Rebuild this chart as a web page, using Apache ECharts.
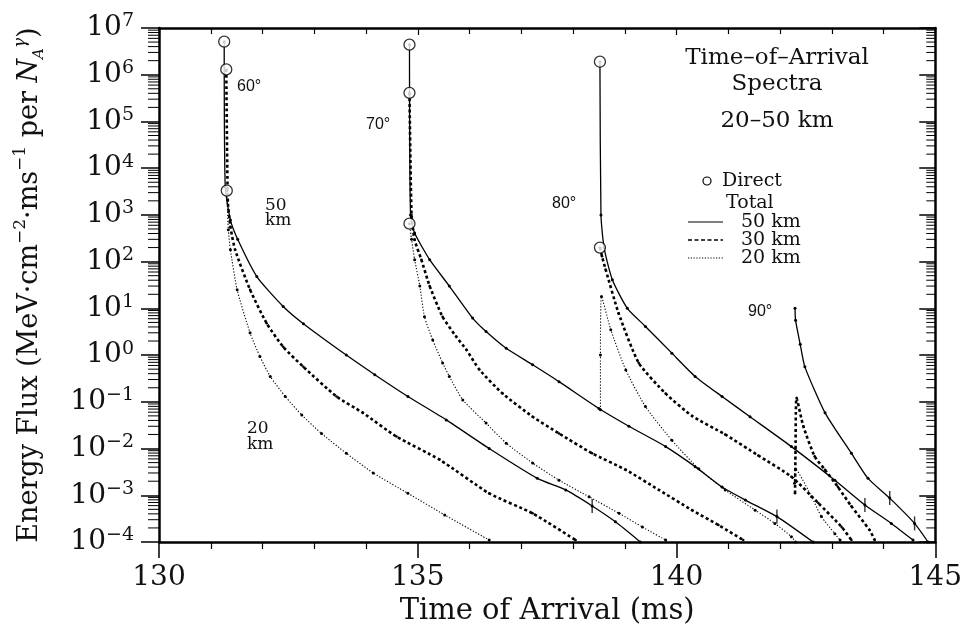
<!DOCTYPE html>
<html><head><meta charset="utf-8">
<script src="https://cdn.jsdelivr.net/npm/echarts@6/dist/echarts.min.js"></script>
<style>html,body{margin:0;padding:0;background:#fff}#c{width:965px;height:636px}</style>
</head><body><div id="c"></div>
<script>
// ---- data (time in ms, energy flux) ----
const xTicks = [130, 135, 140, 145];
const yExponents = [-4, -3, -2, -1, 0, 1, 2, 3, 4, 5, 6, 7];

const t60_50 = [131.26,131.28,131.38,131.52,131.89,132.40,132.79,133.62,134.17,134.81,135.55,136.38,137.31,137.86,138.37,138.82,139.30];
const v60_50 = [5.1e6,4.0e3,7.8e2,3.0e2,48,11,4.7,1.0,0.38,0.13,0.041,0.010,2.3e-3,1.3e-3,5.9e-4,2.7e-4,1.0e-4];
const t60_30 = [131.30,131.33,131.38,131.47,131.76,132.08,132.40,132.79,133.43,133.94,134.59,135.42,136.38,137.22,138.05];
const v60_30 = [1.3e6,2.0e3,5.6e2,1.8e2,25,4.8,1.5,0.56,0.13,0.058,0.018,5.8e-3,1.1e-3,4.1e-4,1.1e-4];
const t60_20 = [131.31,131.34,131.38,131.51,131.76,131.95,132.15,132.44,132.76,133.14,133.62,134.14,134.81,135.52,136.38];
const v60_20 = [3.3e3,4.8e2,1.8e2,25,3.0,0.93,0.35,0.13,0.052,0.021,7.9e-3,3.0e-3,1.1e-3,3.8e-4,1.1e-4];

const t70_50 = [134.84,134.86,134.94,135.23,135.61,136.06,136.32,136.71,137.22,137.73,138.50,139.08,139.79,140.36,140.88,141.33,141.94,142.64];
const v70_50 = [4.4e6,1.0e3,4.1e2,1.1e2,30,6.2,3.2,1.4,0.62,0.27,0.072,0.030,0.011,4.1e-3,1.5e-3,7.9e-4,3.5e-4,1.0e-4];
const t70_30 = [134.84,134.88,134.94,135.07,135.23,135.48,135.74,135.94,136.19,136.64,137.22,137.73,138.37,139.02,139.66,140.30,140.81,141.29];
const v70_30 = [4.1e5,1.0e3,2.9e2,1.1e2,30,6.6,2.5,1.3,0.49,0.15,0.048,0.021,7.9e-3,3.5e-3,1.3e-3,4.8e-4,2.3e-4,1.1e-4];
const t70_20 = [134.84,134.88,134.94,135.04,135.13,135.29,135.48,135.61,135.87,136.32,136.71,137.22,137.73,138.31,138.89,139.34,139.79];
const v70_20 = [6.5e2,3.0e2,1.1e2,30,6.6,2.1,0.68,0.35,0.11,0.035,0.013,4.9e-3,2.1e-3,9.3e-4,4.1e-4,2.1e-4,1.1e-4];

const t80_50 = [138.52,138.54,138.60,138.76,139.05,139.40,139.91,140.36,140.88,141.42,142.22,143.06,143.64,144.15,144.57];
const v80_50 = [1.9e6,1.0e3,2.0e2,41,10,4.1,1.1,0.35,0.13,0.048,0.011,2.1e-3,6.2e-4,2.5e-4,1.1e-4];
const t80_30 = [138.52,138.56,138.63,138.88,139.27,139.79,140.30,140.94,141.58,142.22,142.74,143.19,143.38];
const v80_30 = [2.0e2,1.3e2,68,7.9,0.68,0.15,0.050,0.020,7.1e-3,2.5e-3,6.8e-4,2.1e-4,1.1e-4];
const t80_20 = [138.53,138.53,138.55,138.73,139.02,139.40,139.91,140.43,140.94,141.52,141.90,142.22,142.30];
const v80_20 = [0.068,1.0,18,3.5,0.48,0.079,0.015,3.7e-3,1.3e-3,4.8e-4,2.5e-4,1.3e-4,1.0e-4];

const t90_50 = [142.29,142.30,142.39,142.48,142.87,143.38,143.70,144.12,144.60,144.86];
const v90_50 = [10,5.6,1.7,0.56,0.058,7.9e-3,2.3e-3,8.7e-4,2.5e-4,1.0e-4];
const t90_30 = [142.29,142.30,142.32,142.45,142.67,142.87,143.12,143.38,143.73,143.83];
const v90_30 = [1.1e-3,0.010,0.12,0.030,6.8e-3,3.5e-3,1.5e-3,5.8e-4,1.8e-4,1.1e-4];
const t90_20 = [142.28,142.30,142.61,142.80,143.06,143.16];
const v90_20 = [1.8e-3,3.6e-3,9.3e-4,3.5e-4,1.5e-4,1.1e-4];

const directT = [131.26,131.30,131.31,134.84,134.84,134.84,138.52,138.52];
const directV = [5.1e6,1.3e6,3.3e3,4.4e6,4.1e5,6.5e2,1.9e6,2.0e2];

const errT = [138.37,141.94,143.64,144.12,144.60];
const errV = [5.9e-4,3.5e-4,6.2e-4,8.7e-4,2.5e-4];

const angleLabels = ['60°','70°','80°','90°'];
const altitudeLabels = ['50 km','30 km','20 km'];

// ---- build chart ----
const SERIF = '"DejaVu Serif", "Liberation Serif", serif';
const SANS = '"Liberation Sans", "DejaVu Sans", sans-serif';
const zip = (t, v) => t.map((x, i) => [x, v[i]]);

const styles = {
  '50 km': { type: 'solid', width: 1.3 },
  '30 km': { type: [3, 2.6], width: 2.6 },
  '20 km': { type: [1.2, 1.8], width: 1.1 }
};

const groups = [
  ['50 km', t60_50, v60_50], ['30 km', t60_30, v60_30], ['20 km', t60_20, v60_20],
  ['50 km', t70_50, v70_50], ['30 km', t70_30, v70_30], ['20 km', t70_20, v70_20],
  ['50 km', t80_50, v80_50], ['30 km', t80_30, v80_30], ['20 km', t80_20, v80_20],
  ['50 km', t90_50, v90_50], ['30 km', t90_30, v90_30], ['20 km', t90_20, v90_20]
];

const series = groups.map(([name, t, v]) => ({
  name, type: 'line', data: zip(t, v),
  smooth: 0.2,
  symbol: 'circle', symbolSize: name === '30 km' ? 2.5 : 3, showSymbol: true,
  itemStyle: { color: '#000' },
  lineStyle: { color: '#000', width: styles[name].width, type: styles[name].type },
  silent: true, animation: false, z: 3
}));

series.push({
  name: 'Direct', type: 'scatter', data: zip(directT, directV),
  symbol: 'circle', symbolSize: 11,
  itemStyle: { color: '#fff', borderColor: '#000', borderWidth: 1.3 },
  z: 5, silent: true, animation: false
});
series.push({
  name: 'err', type: 'scatter', data: zip(errT, errV),
  symbol: 'rect', symbolSize: [1.4, 14],
  itemStyle: { color: '#000' }, z: 4, silent: true, animation: false
});

// log minor ticks (2..9 per decade) on left (outward) and right (inward)
const minorVals = [];
for (let k = -4; k < 7; k++) for (let m = 2; m <= 9; m++) minorVals.push(m * Math.pow(10, k));
function tickSeries(xv, dir, len) {
  return {
    type: 'custom', silent: true, animation: false, clip: false, z: 6,
    data: minorVals.map(v => [xv, v]),
    renderItem: (params, api) => {
      const p = api.coord([api.value(0), api.value(1)]);
      return { type: 'line', shape: { x1: p[0], y1: p[1], x2: p[0] + dir * len, y2: p[1] },
               style: { stroke: '#000', lineWidth: 1 } };
    }
  };
}
series.push(tickSeries(130, -1, 11));
series.push(tickSeries(145, -1, 9));

const supMinus = e => (e < 0 ? '−' + (-e) : '' + e);

const option = {
  backgroundColor: '#fff',
  animation: false,
  grid: { left: 159, right: 28, top: 28, bottom: 94, containLabel: false },
  xAxis: [
    {
      type: 'value', min: xTicks[0], max: xTicks[xTicks.length - 1], interval: 5, position: 'bottom',
      name: 'Time of Arrival (ms)', nameLocation: 'middle', nameGap: 55,
      nameTextStyle: { fontFamily: SERIF, fontSize: 29, color: '#111' },
      axisLine: { lineStyle: { color: '#000', width: 2.5 } },
      axisTick: { inside: false, length: 16, lineStyle: { color: '#000', width: 1.5 } },
      minorTick: { show: true, splitNumber: 5, length: 7, lineStyle: { color: '#000', width: 1.2 } },
      axisLabel: { fontFamily: SERIF, fontSize: 28, color: '#111', margin: 22 },
      splitLine: { show: false }
    },
    {
      type: 'value', min: xTicks[0], max: xTicks[xTicks.length - 1], interval: 5, position: 'top',
      axisLine: { lineStyle: { color: '#000', width: 2.5 } },
      axisTick: { inside: true, length: 7, lineStyle: { color: '#000', width: 1.2 } },
      minorTick: { show: true, splitNumber: 5, length: 6, lineStyle: { color: '#000', width: 1.2 } },
      axisLabel: { show: false }, splitLine: { show: false }
    }
  ],
  yAxis: [
    {
      type: 'log', logBase: 10, min: 1e-4, max: 1e7, interval: 1, position: 'left',
      name: '{n|Energy Flux (MeV·cm}{s|−2}{n|·ms}{s|−1}{n| per }{i|N}{sub|A}{si|γ}{n|)}',
      nameLocation: 'middle', nameGap: 112,
      nameTextStyle: {
        fontFamily: SERIF, fontSize: 27, color: '#111',
        rich: {
          n: { fontFamily: SERIF, fontSize: 27, lineHeight: 35, color: '#111' },
          s: { fontFamily: SERIF, fontSize: 17, lineHeight: 17, verticalAlign: 'top', color: '#111' },
          i: { fontFamily: SERIF, fontSize: 27, fontStyle: 'italic', lineHeight: 35, color: '#111' },
          sub: { fontFamily: SERIF, fontSize: 15, lineHeight: 15, verticalAlign: 'bottom', fontStyle: 'italic', color: '#111' },
          si: { fontFamily: SERIF, fontSize: 17, lineHeight: 17, verticalAlign: 'top', fontStyle: 'italic', color: '#111' }
        }
      },
      axisLine: { lineStyle: { color: '#000', width: 2.5 } },
      axisTick: { inside: false, length: 18, lineStyle: { color: '#000', width: 1.5 } },
      axisLabel: {
        margin: 25,
        formatter: v => {
          const e = Math.round(Math.log10(v));
          return '{b|10}{s|' + supMinus(e) + '}';
        },
        rich: {
          b: { fontFamily: SERIF, fontSize: 28, lineHeight: 32, color: '#111' },
          s: { fontFamily: SERIF, fontSize: 19, lineHeight: 18, verticalAlign: 'top', color: '#111' }
        }
      },
      splitLine: { show: false }
    },
    {
      type: 'log', logBase: 10, min: 1e-4, max: 1e7, interval: 1, position: 'right',
      axisLine: { lineStyle: { color: '#000', width: 2.5 } },
      axisTick: { inside: true, length: 16, lineStyle: { color: '#000', width: 1.5 } },
      axisLabel: { show: false }, splitLine: { show: false }
    }
  ],
  graphic: [
    // angle labels
    { type: 'text', left: 237, top: 79, style: { text: angleLabels[0], font: '16px ' + SANS, fill: '#111' } },
    { type: 'text', left: 366, top: 117, style: { text: angleLabels[1], font: '16px ' + SANS, fill: '#111' } },
    { type: 'text', left: 552, top: 196, style: { text: angleLabels[2], font: '16px ' + SANS, fill: '#111' } },
    { type: 'text', left: 748, top: 304, style: { text: angleLabels[3], font: '16px ' + SANS, fill: '#111' } },
    // altitude labels
    { type: 'text', left: 265, top: 197, style: { text: '50\nkm', font: '17px ' + SERIF, fill: '#111', lineHeight: 15 } },
    { type: 'text', left: 247, top: 420, style: { text: '20\nkm', font: '17px ' + SERIF, fill: '#111', lineHeight: 16 } },
    // title block
    { type: 'text', x: 777, y: 58, style: { text: 'Time–of–Arrival', font: '23px ' + SERIF, fill: '#111', align: 'center', verticalAlign: 'middle' } },
    { type: 'text', x: 777, y: 84, style: { text: 'Spectra', font: '23px ' + SERIF, fill: '#111', align: 'center', verticalAlign: 'middle' } },
    { type: 'text', x: 777, y: 121, style: { text: '20–50 km', font: '23px ' + SERIF, fill: '#111', align: 'center', verticalAlign: 'middle' } },
    // legend
    { type: 'circle', shape: { cx: 707, cy: 181, r: 4 }, style: { fill: '#fff', stroke: '#000', lineWidth: 1.2 } },
    { type: 'text', x: 722, y: 181, style: { text: 'Direct', font: '19px ' + SERIF, fill: '#111', verticalAlign: 'middle' } },
    { type: 'text', x: 726, y: 203, style: { text: 'Total', font: '19px ' + SERIF, fill: '#111', verticalAlign: 'middle' } },
    { type: 'line', shape: { x1: 688, y1: 222, x2: 723, y2: 222 }, style: { stroke: '#000', lineWidth: 1.2 } },
    { type: 'line', shape: { x1: 688, y1: 240, x2: 723, y2: 240 }, style: { stroke: '#000', lineWidth: 1.6, lineDash: [4, 2.5] } },
    { type: 'line', shape: { x1: 688, y1: 258, x2: 723, y2: 258 }, style: { stroke: '#000', lineWidth: 1.1, lineDash: [1.2, 1.6] } },
    { type: 'text', x: 741, y: 222, style: { text: altitudeLabels[0], font: '19px ' + SERIF, fill: '#111', verticalAlign: 'middle' } },
    { type: 'text', x: 741, y: 240, style: { text: altitudeLabels[1], font: '19px ' + SERIF, fill: '#111', verticalAlign: 'middle' } },
    { type: 'text', x: 741, y: 258, style: { text: altitudeLabels[2], font: '19px ' + SERIF, fill: '#111', verticalAlign: 'middle' } }
  ],
  series
};

const chart = echarts.init(document.getElementById('c'), null, { renderer: 'canvas' });
chart.setOption(option);
</script></body></html>
